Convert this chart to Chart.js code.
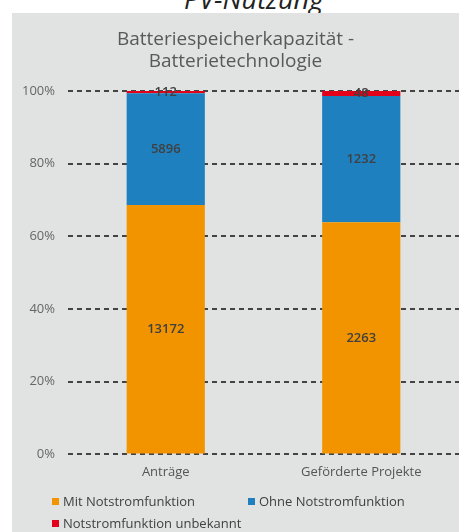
<!DOCTYPE html>
<html lang="de">
<head>
  <meta charset="UTF-8" />
  <title>Batteriespeicherkapazität - Batterietechnologie</title>
  <script src="https://cdn.jsdelivr.net/npm/chart.js"></script>
  <style>
    html, body {
      margin: 0;
      padding: 0;
      background: #ffffff;
      width: 459px;
      height: 532px;
      overflow: hidden;
      font-family: "Open Sans", "Noto Sans", sans-serif;
    }
    .kopf {
      position: absolute;
      left: 184px;
      top: -15px;
      font-size: 27px;
      line-height: 27px;
      font-style: italic;
      color: #222;
      z-index: 1;
    }
    .panel {
      position: absolute;
      left: 12px;
      top: 13px;
      width: 447px;
      height: 519px;
      background: #e1e2e2;
      z-index: 2;
    }
    #chartBox {
      position: absolute;
      left: 0;
      top: 0;
      width: 447px;
      height: 478px;
    }
    .legende {
      position: absolute;
      left: 40px;
      top: 477px;
      font-size: 13px;
      color: #404040;
    }
    .legende .zeile {
      height: 22px;
      display: flex;
      align-items: center;
    }
    .legende .eintrag {
      display: flex;
      align-items: center;
    }
    .legende .box {
      width: 7px;
      height: 7px;
      margin-right: 4px;
    }
  </style>
</head>
<body>

  <div class="kopf">PV-Nutzung</div>

  <div class="panel">
    <div id="chartBox"><canvas id="speicherChart"></canvas></div>
    <div class="legende" id="legende"></div>
  </div>

  <script>
    // Kategorien und Werte (kWh) je Batterietyp
    const kategorien = ["Anträge", "Geförderte Projekte"];
    const serien = ["Mit Notstromfunktion", "Ohne Notstromfunktion", "Notstromfunktion unbekannt"];
    const mitNotstrom = [13172, 2263];
    const ohneNotstrom = [5896, 1232];
    const unbekannt = [112, 48];
    const farben = ["#f29400", "#1f80c0", "#e2001a"];
    const yTicks = [0, 20, 40, 60, 80, 100];

    const werte = [mitNotstrom, ohneNotstrom, unbekannt];
    const summen = kategorien.map((_, i) => werte.reduce((s, w) => s + w[i], 0));

    // Anteil in Prozent je Kategorie
    const datasets = serien.map((name, k) => ({
      label: name,
      data: werte[k].map((v, i) => v / summen[i] * 100),
      absolut: werte[k],
      backgroundColor: farben[k],
      borderWidth: 0,
      categoryPercentage: 0.8,
      barPercentage: 0.5
    }));

    // Absolutwerte mittig in die Segmente schreiben
    const wertLabels = {
      id: "wertLabels",
      afterDatasetsDraw(chart) {
        const ctx = chart.ctx;
        ctx.save();
        ctx.font = "600 13px 'Open Sans', 'Noto Sans', sans-serif";
        ctx.fillStyle = "#404040";
        ctx.textAlign = "center";
        ctx.textBaseline = "middle";
        chart.data.datasets.forEach((ds, k) => {
          const meta = chart.getDatasetMeta(k);
          meta.data.forEach((bar, i) => {
            const y = (bar.y + bar.base) / 2;
            ctx.fillText(String(ds.absolut[i]), bar.x, y);
          });
        });
        ctx.restore();
      }
    };

    new Chart(document.getElementById("speicherChart"), {
      type: "bar",
      data: { labels: kategorien, datasets: datasets },
      options: {
        responsive: true,
        maintainAspectRatio: false,
        animation: false,
        layout: { padding: { left: 0, right: 0, top: 0, bottom: 9 } },
        plugins: {
          legend: { display: false },
          tooltip: { enabled: false },
          title: {
            display: true,
            text: ["Batteriespeicherkapazität -", "Batterietechnologie"],
            color: "#595959",
            font: { family: "'Open Sans', 'Noto Sans', sans-serif", size: 19, weight: "normal", lineHeight: 1.16 },
            padding: { top: 16, bottom: 18 }
          }
        },
        scales: {
          x: {
            stacked: true,
            grid: { display: false },
            border: { display: false },
            ticks: {
              color: "#555555",
              padding: 2,
              font: { family: "'Open Sans', 'Noto Sans', sans-serif", size: 13 }
            }
          },
          y: {
            stacked: true,
            min: 0,
            max: 100,
            afterFit(scale) { scale.width = 56; },
            afterBuildTicks(scale) { scale.ticks = yTicks.map(v => ({ value: v })); },
            // gestrichelte Rasterlinien
            border: { display: false, dash: [5, 4] },
            grid: {
              color: "#444444",
              lineWidth: 2,
              drawTicks: false
            },
            ticks: {
              padding: 13,
              color: "#666666",
              font: { family: "'Open Sans', 'Noto Sans', sans-serif", size: 13 },
              callback: v => v + "%"
            }
          }
        }
      },
      plugins: [wertLabels]
    });

    // Legende: zwei Einträge in der ersten Zeile, einer in der zweiten
    const legende = document.getElementById("legende");
    const zeilen = [[0, 1], [2]];
    zeilen.forEach(reihe => {
      const z = document.createElement("div");
      z.className = "zeile";
      reihe.forEach((k, j) => {
        const e = document.createElement("div");
        e.className = "eintrag";
        e.innerHTML = '<span class="box" style="background:' + farben[k] + '"></span>' + serien[k];
        if (j === 0 && reihe.length > 1) e.style.width = "196px";
        z.appendChild(e);
      });
      legende.appendChild(z);
    });
  </script>

</body>
</html>
